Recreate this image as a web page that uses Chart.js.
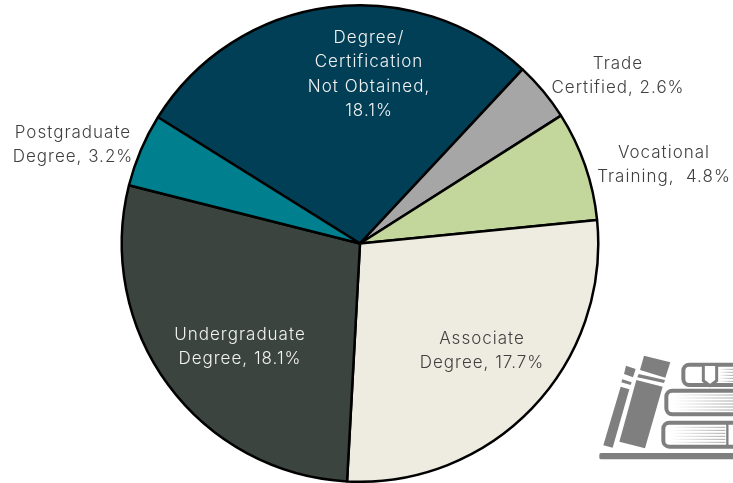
<!DOCTYPE html>
<html>
<head>
<meta charset="utf-8">
<style>
  html, body { margin: 0; padding: 0; background: #fff; overflow: hidden; }
  canvas { display: block; }
</style>
</head>
<body>
<canvas id="educationChart" width="733" height="483"></canvas>
<script src="https://cdn.jsdelivr.net/npm/chart.js@4/dist/chart.umd.min.js"></script>
<script>
const categories = ['Degree/Certification Not Obtained', 'Trade Certified', 'Vocational Training', 'Associate Degree', 'Undergraduate Degree', 'Postgraduate Degree'];
const shares = [18.1, 2.6, 4.8, 17.7, 18.1, 3.2];
const sliceColors = ['#003F56', '#A6A6A6', '#C3D69B', '#EEECE1', '#3B443F', '#00808F'];

const DARK_TEXT = '#404040';
const LIGHT_TEXT = '#F2F2F2';

// Label text per slice, placed by hand like the original
const labelLines = [
    ['Degree/', 'Certification', 'Not Obtained,', '18.1%'],
    ['Trade', 'Certified, 2.6%'],
    ['Vocational', 'Training,  4.8%'],
    ['Associate', 'Degree, 17.7%'],
    ['Undergraduate', 'Degree, 18.1%'],
    ['Postgraduate', 'Degree, 3.2%']
];
const labelX = [369, 618, 664, 482, 240, 73];
const labelY = [38, 64, 153, 339, 335, 133];
const labelColors = [LIGHT_TEXT, DARK_TEXT, DARK_TEXT, DARK_TEXT, LIGHT_TEXT, DARK_TEXT];

const sliceLabels = {
    id: 'sliceLabels',
    afterDatasetsDraw(chart) {
        const { ctx } = chart;
        ctx.save();
        ctx.font = '300 17px Inter, Lato, sans-serif';
        ctx.letterSpacing = '1px';
        ctx.textAlign = 'center';
        ctx.textBaseline = 'middle';
        labelLines.forEach((lines, i) => {
            ctx.fillStyle = labelColors[i];
            lines.forEach((line, n) => ctx.fillText(line, labelX[i], labelY[i] + n * 24.3));
        });
        ctx.restore();
    }
};

const poly = (ctx, pts) => {
    ctx.beginPath();
    pts.forEach((p, i) => i ? ctx.lineTo(p[0], p[1]) : ctx.moveTo(p[0], p[1]));
    ctx.closePath();
    ctx.fill();
};

// Books picture in the lower right corner
const booksIcon = {
    id: 'booksIcon',
    afterDraw(chart) {
        const { ctx } = chart;
        const grey = '#7F7F7F';
        ctx.save();
        ctx.translate(590, 340);
        ctx.scale(1 / 3, 1 / 3);
        ctx.fillStyle = grey;
        ctx.strokeStyle = grey;

        // leaning books
        poly(ctx, [[108, 77], [137, 87], [129, 112], [102, 102]]);
        poly(ctx, [[97, 118], [125, 127], [122, 135], [94, 127]]);
        poly(ctx, [[92, 140], [118, 148], [68, 323], [40, 316]]);
        poly(ctx, [[162, 47], [241, 67], [226, 113], [150, 90]]);
        poly(ctx, [[146, 102], [225, 120], [222, 129], [142, 112]]);
        poly(ctx, [[139, 120], [218, 140], [165, 325], [88, 305]]);

        // shelf
        ctx.beginPath();
        ctx.roundRect(28, 339, 420, 19, 5);
        ctx.fill();

        // stacked books
        ctx.lineWidth = 12;
        ctx.beginPath();
        ctx.roundRect(280, 74, 200, 61, 18);
        ctx.stroke();
        ctx.beginPath();
        ctx.roundRect(229, 152, 250, 71, 18);
        ctx.stroke();
        ctx.beginPath();
        ctx.roundRect(220, 248, 260, 72, 18);
        ctx.stroke();

        // page edges fading to the left
        const fade = (x0, x1) => {
            const g = ctx.createLinearGradient(x0, 0, x1, 0);
            g.addColorStop(0, 'rgba(127,127,127,0)');
            g.addColorStop(1, 'rgba(127,127,127,0.7)');
            return g;
        };
        ctx.lineWidth = 3;
        [[385, 429, 88], [385, 429, 97], [385, 429, 106], [385, 429, 115], [385, 429, 124],
         [250, 429, 165], [250, 429, 174], [250, 429, 183], [250, 429, 192], [250, 429, 201], [250, 429, 210],
         [240, 406, 262], [240, 406, 271], [240, 406, 280], [240, 406, 289], [240, 406, 298], [240, 406, 307]
        ].forEach(([x0, x1, y]) => {
            ctx.strokeStyle = fade(x0, x1);
            ctx.beginPath();
            ctx.moveTo(x0, y);
            ctx.lineTo(x1, y);
            ctx.stroke();
        });

        // bookmark and spine, drawn over the page edges
        ctx.fillStyle = '#fff';
        poly(ctx, [[340, 78], [380, 78], [380, 122], [360, 135], [340, 122]]);
        ctx.strokeStyle = grey;
        ctx.lineWidth = 9;
        ctx.beginPath();
        ctx.moveTo(340, 76);
        ctx.lineTo(340, 122);
        ctx.lineTo(360, 137);
        ctx.lineTo(380, 122);
        ctx.lineTo(380, 76);
        ctx.stroke();
        ctx.lineWidth = 7;
        ctx.beginPath();
        ctx.moveTo(412, 250);
        ctx.lineTo(412, 318);
        ctx.stroke();
        ctx.restore();
    }
};

new Chart(document.getElementById('educationChart').getContext('2d'), {
    type: 'pie',
    data: {
        labels: categories,
        datasets: [{
            data: shares,
            backgroundColor: sliceColors,
            borderColor: '#000',
            borderWidth: 2.5,
            borderAlign: 'center'
        }]
    },
    options: {
        responsive: false,
        animation: false,
        rotation: -58,
        layout: { padding: { left: 120, right: 133, top: 4, bottom: -1 } },
        plugins: { legend: { display: false }, tooltip: { enabled: false }, title: { display: false } }
    },
    plugins: [sliceLabels, booksIcon]
});
</script>
</body>
</html>
